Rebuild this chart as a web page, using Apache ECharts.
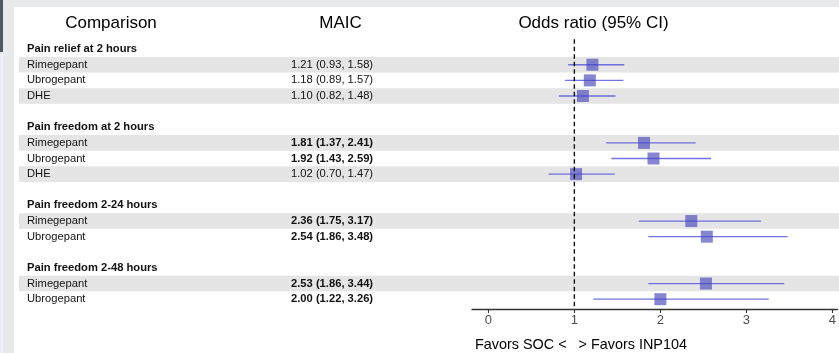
<!DOCTYPE html>
<html>
<head>
<meta charset="utf-8">
<style>
  html, body { margin: 0; padding: 0; background: #ffffff; }
  #chart { width: 839px; height: 353px; }
</style>
<script src="https://cdn.jsdelivr.net/npm/echarts@6/dist/echarts.min.js"></script>
</head>
<body>
<div id="chart"></div>
<script>
// ---- Data ----
const columnHeaders = ['Comparison', 'MAIC', 'Odds ratio (95% CI)'];
const groups = ['Pain relief at 2 hours', 'Pain freedom at 2 hours', 'Pain freedom 2-24 hours', 'Pain freedom 2-48 hours'];
const comparisons = [
  ['Rimegepant', 'Ubrogepant', 'DHE'],
  ['Rimegepant', 'Ubrogepant', 'DHE'],
  ['Rimegepant', 'Ubrogepant'],
  ['Rimegepant', 'Ubrogepant']
];
const oddsRatio = [[1.21, 1.18, 1.10], [1.81, 1.92, 1.02], [2.36, 2.54], [2.53, 2.00]];
const ciLower   = [[0.93, 0.89, 0.82], [1.37, 1.43, 0.70], [1.75, 1.86], [1.86, 1.22]];
const ciUpper   = [[1.58, 1.57, 1.48], [2.41, 2.59, 1.47], [3.17, 3.48], [3.44, 3.26]];
const significant = [[false, false, false], [true, true, false], [true, true], [true, true]];
const xTicks = [0, 1, 2, 3, 4];
const axisNote = 'Favors SOC <   > Favors INP104';
const referenceLine = [1];

// ---- Build rows ----
const rows = [];
groups.forEach((g, gi) => {
  rows.push({ type: 'heading', label: g });
  comparisons[gi].forEach((c, ci) => {
    rows.push({
      type: 'data', label: c, shaded: ci % 2 === 0,
      or: oddsRatio[gi][ci], lo: ciLower[gi][ci], hi: ciUpper[gi][ci],
      bold: significant[gi][ci]
    });
  });
  if (gi < groups.length - 1) rows.push({ type: 'blank', label: '' });
});
const rowCats = rows.map((r, i) => String(i));

const FONT = '"Liberation Sans", Arial, Helvetica, sans-serif';
const GRID_TOP = 41.3, GRID_H = 265.7;

const bandData = [], textData = [], ciData = [], pointData = [];
rows.forEach((r, i) => {
  if (r.type !== 'blank') textData.push([0, i]);
  if (r.type === 'data') {
    if (r.shaded) bandData.push([0, i]);
    ciData.push([r.lo, r.hi, i]);
    pointData.push([r.or, i]);
  }
});

const chart = echarts.init(document.getElementById('chart'), null, { renderer: 'canvas' });

chart.setOption({
  animation: false,
  backgroundColor: '#ffffff',
  grid: [
    { left: 19, right: 0, top: GRID_TOP, height: GRID_H },
    { left: 472, width: 368.5, top: GRID_TOP, height: GRID_H }
  ],
  xAxis: [
    { gridIndex: 0, type: 'value', min: 0, max: 1, show: false },
    {
      gridIndex: 1, type: 'value', min: -0.19, max: 4.06, offset: 2,
      axisLine: { show: true, lineStyle: { color: '#333333', width: 1.3 } },
      axisTick: { show: true, customValues: xTicks, length: 4, lineStyle: { color: '#333333', width: 1.1 } },
      axisLabel: { show: true, customValues: xTicks, color: '#4d4d4d', fontSize: 13, fontFamily: FONT, margin: 5 },
      splitLine: { show: false }
    }
  ],
  yAxis: [
    { gridIndex: 0, type: 'category', data: rowCats, inverse: true, show: false },
    { gridIndex: 1, type: 'category', data: rowCats, inverse: true, show: false }
  ],
  graphic: [
    { type: 'rect', shape: { x: 0, y: 0, width: 839, height: 7 }, style: { fill: '#e8e9eb' }, silent: true },
    { type: 'rect', shape: { x: 0, y: 0, width: 14, height: 353 }, style: { fill: '#e8e9eb' }, silent: true },
    { type: 'rect', shape: { x: 0, y: 0, width: 3, height: 52 }, style: { fill: '#4d5863' }, silent: true },
    { type: 'rect', shape: { x: 0, y: 55, width: 3, height: 298 }, style: { fill: '#eceef8' }, silent: true },
    { type: 'text', x: 111, y: 23.5, style: { text: columnHeaders[0], fontSize: 17, fontFamily: FONT, fill: '#000', align: 'center', verticalAlign: 'middle' } },
    { type: 'text', x: 340.5, y: 23.5, style: { text: columnHeaders[1], fontSize: 17, fontFamily: FONT, fill: '#000', align: 'center', verticalAlign: 'middle' } },
    { type: 'text', x: 593.5, y: 23.5, style: { text: columnHeaders[2], fontSize: 17, fontFamily: FONT, fill: '#000', align: 'center', verticalAlign: 'middle' } },
    { type: 'text', x: 475, y: 345.5, style: { text: axisNote, fontSize: 14.4, fontFamily: FONT, fill: '#000', align: 'left', verticalAlign: 'middle' } }
  ],
  series: [
    {
      type: 'custom', xAxisIndex: 0, yAxisIndex: 0, z: 1, silent: true,
      data: bandData,
      renderItem: function (params, api) {
        const c = api.coord([0, api.value(1)]);
        const h = api.size([0, 1])[1];
        const cs = params.coordSys;
        return { type: 'rect', shape: { x: cs.x, y: c[1] - h / 2, width: cs.width, height: h }, style: { fill: '#e5e5e5' } };
      }
    },
    {
      type: 'custom', xAxisIndex: 0, yAxisIndex: 0, z: 3, silent: true,
      data: textData,
      renderItem: function (params, api) {
        const i = api.value(1);
        const r = rows[i];
        const y = api.coord([0, i])[1];
        const children = [{
          type: 'text', x: 27, y: y,
          style: { text: r.label, fontSize: 11.2, fontFamily: FONT, fontWeight: r.type === 'heading' ? 'bold' : 'normal', fill: '#111', align: 'left', verticalAlign: 'middle' }
        }];
        if (r.type === 'data') {
          children.push({
            type: 'text', x: 291, y: y,
            style: { text: r.or.toFixed(2) + ' (' + r.lo.toFixed(2) + ', ' + r.hi.toFixed(2) + ')', fontSize: 11.2, fontFamily: FONT, fontWeight: r.bold ? 'bold' : 'normal', fill: '#111', align: 'left', verticalAlign: 'middle' }
          });
        }
        return { type: 'group', children: children };
      }
    },
    {
      type: 'custom', xAxisIndex: 1, yAxisIndex: 1, z: 4, silent: true,
      data: ciData,
      renderItem: function (params, api) {
        const a = api.coord([api.value(0), api.value(2)]);
        const b = api.coord([api.value(1), api.value(2)]);
        return { type: 'line', shape: { x1: a[0], y1: a[1], x2: b[0], y2: b[1] }, style: { stroke: 'rgba(80,80,218,0.8)', lineWidth: 1.3 } };
      }
    },
    {
      type: 'scatter', xAxisIndex: 1, yAxisIndex: 1, z: 5, silent: true,
      symbol: 'rect', symbolSize: 12,
      itemStyle: { color: 'rgba(70,70,188,0.82)' },
      data: pointData
    },
    {
      type: 'custom', xAxisIndex: 1, yAxisIndex: 1, z: 6, silent: true,
      data: referenceLine.map(v => [v]),
      renderItem: function (params, api) {
        const cs = params.coordSys;
        const x = api.coord([api.value(0), 0])[0];
        return { type: 'line', shape: { x1: x, y1: cs.y - 2, x2: x, y2: cs.y + cs.height + 2 }, style: { stroke: '#111', lineWidth: 1.4, lineDash: [4.5, 3] } };
      }
    }
  ]
});
</script>
</body>
</html>
